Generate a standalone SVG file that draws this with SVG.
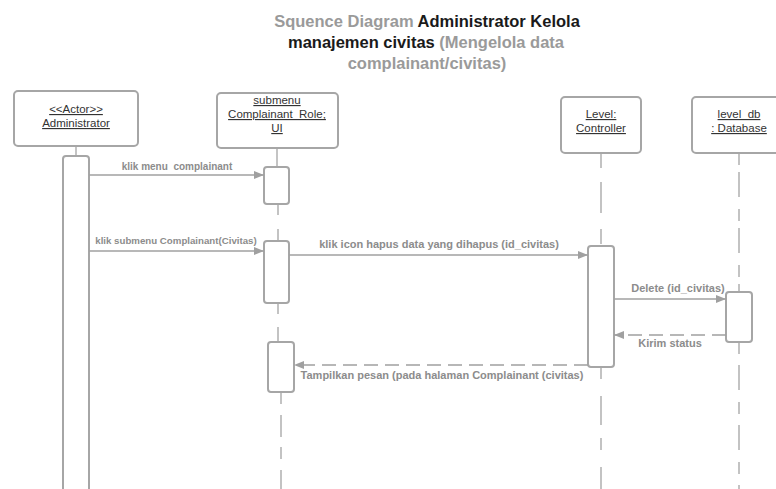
<svg xmlns="http://www.w3.org/2000/svg" width="776" height="489" viewBox="0 0 776 489">
  <style>
    .title { font-family: "Liberation Sans", Arial, sans-serif; font-size: 16.5px; font-weight: bold; text-anchor: middle; }
    .muted { fill: #9a9a9a; }
    .dark { fill: #1a1a1a; }
    .node rect.head { fill: #ffffff; stroke: #a6a6a6; stroke-width: 2; }
    .node text { font-family: "Liberation Sans", Arial, sans-serif; font-size: 11.5px; fill: #333333; text-anchor: middle; text-decoration: underline; }
    .act { fill: #ffffff; stroke: #a6a6a6; stroke-width: 2; }
    .life { stroke: #b0b0b0; stroke-width: 1.5; fill: none; }
    .msg { stroke: #a0a0a0; stroke-width: 1.5; fill: none; }
    .ret { stroke-dasharray: 14 7; }
    .lbl { font-family: "Liberation Sans", Arial, sans-serif; font-weight: bold; fill: #8c8c8c; text-anchor: middle; white-space: pre; }
  </style>
  <defs>
    <marker id="arrow" viewBox="0 0 10 8" refX="10" refY="4" markerWidth="10" markerHeight="8" markerUnits="userSpaceOnUse" orient="auto">
      <path d="M0,0 L10,4 L0,8 Z" fill="#a0a0a0"/>
    </marker>
  </defs>

  <rect width="776" height="489" fill="#ffffff"/>

  <!-- heading -->
  <text class="title" x="427" y="27"><tspan class="muted">Squence Diagram </tspan><tspan class="dark">Administrator Kelola</tspan></text>
  <text class="title" x="426" y="48"><tspan class="dark">manajemen civitas </tspan><tspan class="muted">(Mengelola data</tspan></text>
  <text class="title muted" x="427" y="69">complainant/civitas)</text>

  <!-- lifelines -->
  <g id="lifelines">
    <line class="life" x1="76" y1="146" x2="76" y2="156"/>
    <line class="life" x1="277" y1="148" x2="277" y2="167"/>
    <line class="life" x1="278" y1="204" x2="278" y2="241" style="stroke-dasharray: 11 14"/>
    <line class="life" x1="278" y1="303" x2="278" y2="342" style="stroke-dasharray: 11 13 25 12"/>
    <line class="life" x1="281" y1="392" x2="281" y2="489" style="stroke-dasharray: 12 11 22 10"/>
    <line class="life" x1="601" y1="153" x2="601" y2="246" style="stroke-dasharray: 15 14 31 16"/>
    <line class="life" x1="601" y1="367" x2="601" y2="489" style="stroke-dasharray: 12 17 29 13"/>
    <line class="life" x1="739" y1="153" x2="739" y2="292" style="stroke-dasharray: 12 7 25 12"/>
    <line class="life" x1="739" y1="342" x2="739" y2="489" style="stroke-dasharray: 12 11 25 12"/>
  </g>

  <!-- participants -->
  <g id="administrator" class="node">
    <rect class="head" x="14" y="91" width="124" height="55" rx="4"/>
    <text x="76" y="113">&lt;&lt;Actor&gt;&gt;</text>
    <text x="76" y="127">Administrator</text>
    <rect class="act" x="63" y="156" width="26" height="340" rx="3"/>
  </g>

  <g id="submenu-ui" class="node">
    <rect class="head" x="217" y="93" width="121" height="55" rx="4"/>
    <text x="277" y="104">submenu</text>
    <text x="277" y="118">Complainant_Role;</text>
    <text x="277" y="132">UI</text>
    <rect class="act" x="264" y="167" width="25" height="37" rx="3"/>
    <rect class="act" x="264" y="241" width="25" height="62" rx="3"/>
    <rect class="act" x="268" y="342" width="26" height="50" rx="3"/>
  </g>

  <g id="level-controller" class="node">
    <rect class="head" x="561" y="97" width="80" height="56" rx="4"/>
    <text x="601" y="118">Level:</text>
    <text x="601" y="132">Controller</text>
    <rect class="act" x="588" y="246" width="26" height="121" rx="3"/>
  </g>

  <g id="level-db" class="node">
    <rect class="head" x="692" y="97" width="94" height="56" rx="4"/>
    <text x="739" y="118">level_db</text>
    <text x="739" y="132">: Database</text>
    <rect class="act" x="726" y="292" width="26" height="50" rx="3"/>
  </g>

  <!-- messages -->
  <g id="messages">
    <line class="msg" x1="89" y1="175" x2="264" y2="175" marker-end="url(#arrow)"/>
    <text class="lbl" x="177" y="170" font-size="10" xml:space="preserve">klik menu  complainant</text>

    <line class="msg" x1="89" y1="251" x2="264" y2="251" marker-end="url(#arrow)"/>
    <text class="lbl" x="176" y="244" font-size="9.7">klik submenu Complainant(Civitas)</text>

    <line class="msg" x1="289" y1="255" x2="588" y2="255" marker-end="url(#arrow)"/>
    <text class="lbl" x="439" y="248" font-size="11">klik icon hapus data yang dihapus (id_civitas)</text>

    <line class="msg" x1="614" y1="299" x2="726" y2="299" marker-end="url(#arrow)"/>
    <text class="lbl" x="678" y="292" font-size="11">Delete (id_civitas)</text>

    <line class="msg ret" x1="726" y1="335" x2="614" y2="335" marker-end="url(#arrow)"/>
    <text class="lbl" x="670" y="347" font-size="11">Kirim status</text>

    <line class="msg ret" x1="588" y1="365" x2="294" y2="365" marker-end="url(#arrow)"/>
    <text class="lbl" x="442" y="379" font-size="11">Tampilkan pesan (pada halaman Complainant (civitas)</text>
  </g>
</svg>
